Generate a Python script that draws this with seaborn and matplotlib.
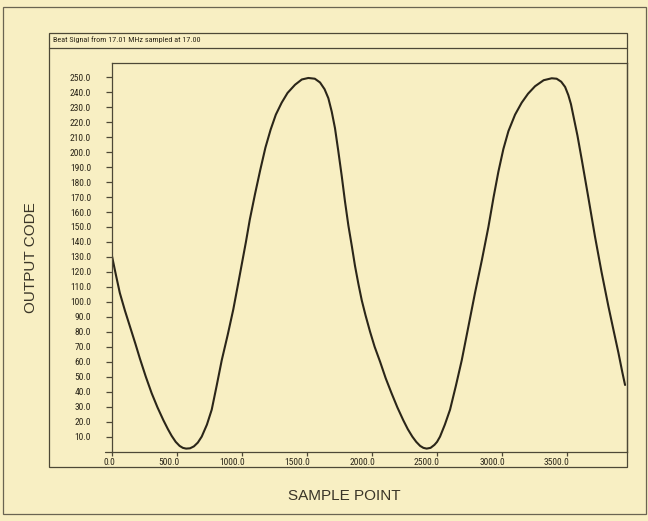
import numpy as np
import pandas as pd
import matplotlib
matplotlib.use("Agg")
import matplotlib.pyplot as plt
import matplotlib.transforms as mtransforms
from matplotlib import font_manager
from matplotlib.font_manager import FontProperties
from matplotlib.lines import Line2D
from matplotlib.patches import Rectangle
import seaborn as sns

# Beat signal samples (sample index, ADC output code)
sample_point = [0, 30, 60, 100, 140, 180, 215, 260, 305, 350, 395, 430, 459, 490,
                520, 545, 570, 600, 630, 660, 690, 730, 767, 805, 844, 890, 933,
                970, 1000, 1030, 1060, 1100, 1140, 1180, 1220, 1260, 1305, 1350,
                1408, 1460, 1510, 1560, 1600, 1635, 1664, 1690, 1715, 1740, 1767,
                1792, 1818, 1845, 1869, 1895, 1921, 1950, 1985, 2020, 2062, 2105,
                2150, 2195, 2240, 2275, 2310, 2340, 2370, 2395, 2420, 2450, 2480,
                2500, 2523, 2560, 2600, 2645, 2690, 2740, 2792, 2845, 2895, 2935,
                2972, 3010, 3049, 3100, 3151, 3200, 3254, 3320, 3382, 3420, 3455,
                3485, 3510, 3530, 3549, 3580, 3613, 3665, 3715, 3765, 3818, 3860,
                3895, 3925, 3946]
output_code = [130.5, 118.0, 106.0, 94.0, 83.0, 72.0, 62.0, 50.0, 39.0, 29.5, 21.0, 15.0, 10.5, 6.5,
               3.8, 2.5, 2.0, 2.2, 3.5, 6.0, 10.0, 18.0, 28.0, 44.0, 61.0, 78.0, 95.0,
               112.0, 126.0, 140.0, 155.0, 172.0, 188.0, 203.0, 215.0, 225.0, 233.0, 239.5,
               245.0, 248.5, 249.5, 249.0, 246.5, 242.0, 236.0, 227.0, 216.0, 201.0, 184.0,
               167.0, 151.0, 137.0, 124.0, 112.0, 101.0, 91.0, 80.0, 70.0, 60.0, 49.0,
               39.0, 29.5, 21.0, 15.0, 10.0, 6.5, 3.8, 2.5, 2.0, 2.5, 4.5,
               6.5, 10.0, 18.0, 28.0, 44.0, 61.0, 83.0, 106.0, 128.0, 150.0, 170.0,
               187.0, 202.0, 214.0, 225.0, 233.0, 239.0, 244.0, 248.0, 249.3, 249.0, 247.0,
               243.5, 238.0, 232.0, 224.0, 211.0, 195.0, 169.0, 143.5, 120.0, 97.0, 80.0,
               66.0, 53.0, 44.5]

x_ticks = [0, 500, 1000, 1500, 2000, 2500, 3000, 3500]
x_tick_labels = ["0.0", "500.0", "1000.0", "1500.0", "2000.0", "2500.0", "3000.0", "3500.0"]
y_ticks = list(range(10, 260, 10))
y_tick_labels = [f"{v:.1f}" for v in y_ticks]

title_text = "Beat Signal from 17.01 MHz sampled at 17.00"
x_label = "SAMPLE POINT"
y_label = "OUTPUT CODE"

PAPER = "#f8efc3"
INK = "#2b2619"
RULE = "#4d4836"

sns.set_theme(style="white")
plt.rcParams["font.family"] = ["Liberation Sans", "DejaVu Sans"]


def narrow_font(size):
    """Narrow face for the plotter-style labels, falling back to a smaller sans."""
    entries = font_manager.fontManager.ttflist
    names = {f.name for f in entries}
    for name in ["Liberation Sans Narrow", "DejaVu Sans Condensed",
                 "Noto Sans Condensed", "Roboto Condensed", "Open Sans Condensed"]:
        if name in names:
            return FontProperties(family=name, size=size)
    for f in entries:
        if f.name in ("DejaVu Sans", "Noto Sans", "Open Sans", "Roboto") and \
                f.stretch in ("condensed", "semi-condensed", "extra-condensed") and \
                f.weight in ("normal", 400, "regular", "book"):
            return FontProperties(family=f.name, stretch=f.stretch, size=size)
    return FontProperties(family="Liberation Sans", size=size * 0.86)


W, H = 648, 521
fig = plt.figure(figsize=(W / 100, H / 100), dpi=100, facecolor=PAPER)


def fx(px):
    return px / W


def fy(py):
    return 1 - py / H


ax_left, ax_right, ax_top, ax_bottom = 112, 627, 63, 451.6
ax = fig.add_axes([fx(ax_left), fy(ax_bottom), fx(ax_right) - fx(ax_left),
                   fy(ax_top) - fy(ax_bottom)])
ax.set_facecolor(PAPER)

df = pd.DataFrame({"sample": sample_point, "code": output_code})
sns.lineplot(data=df, x="sample", y="code", ax=ax, color=INK, linewidth=1.5,
             sort=False)

ax.set_xlim(0, 3961)
ax.set_ylim(0, 259.5)
ax.set_xlabel("")
ax.set_ylabel("")

for s in ax.spines.values():
    s.set_color(RULE)
    s.set_linewidth(0.9)

tick_font = narrow_font(6.8)
ax.set_yticks(y_ticks)
ax.set_yticklabels(y_tick_labels, fontproperties=tick_font, color=INK)
ax.set_xticks(x_ticks)
ax.set_xticklabels(x_tick_labels, fontproperties=tick_font, color=INK)
ax.tick_params(axis="y", direction="out", length=4, width=0.9, color=RULE, pad=11,
               left=True)
ax.tick_params(axis="x", direction="out", length=3, width=0.9, color=RULE, pad=1.5,
               bottom=True)

# x labels end at their tick mark
shift = mtransforms.ScaledTranslation(2.0 / 72, 0, fig.dpi_scale_trans)
for lab in ax.get_xticklabels():
    lab.set_horizontalalignment("right")
    lab.set_transform(lab.get_transform() + shift)

# Outer frame and the chart box with its title strip
fig.add_artist(Rectangle((fx(3), fy(514)), fx(646) - fx(3), fy(7) - fy(514),
                         transform=fig.transFigure, fill=False, edgecolor="#6a6452",
                         linewidth=0.9))
fig.add_artist(Rectangle((fx(49), fy(467)), fx(627) - fx(49), fy(33) - fy(467),
                         transform=fig.transFigure, fill=False, edgecolor=RULE,
                         linewidth=0.9))
fig.add_artist(Line2D([fx(49), fx(627)], [fy(47.5), fy(47.5)],
                      transform=fig.transFigure, color=RULE, linewidth=0.9))
# x axis rule runs a little past the y axis
fig.add_artist(Line2D([fx(105), fx(112)], [fy(ax_bottom), fy(ax_bottom)],
                      transform=fig.transFigure, color=RULE, linewidth=0.9))
fig.text(fx(53), fy(40), title_text, fontproperties=narrow_font(5.9), color=INK,
         ha="left", va="center")

fig.text(fx(344), fy(496), x_label, fontsize=11, color="#3a3528",
         ha="center", va="center")
fig.text(fx(31), fy(258), y_label, fontsize=11, color="#3a3528",
         ha="center", va="center", rotation=90)

fig.savefig("out.png", dpi=100, facecolor=PAPER)
